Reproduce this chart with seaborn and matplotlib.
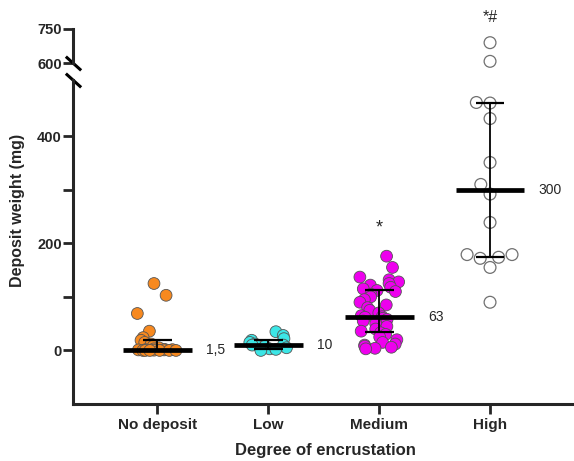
import numpy as np
import pandas as pd
import matplotlib
matplotlib.use("Agg")
import matplotlib.pyplot as plt
import seaborn as sns

# values (mg)
groups = ['No deposit', 'Low', 'Medium', 'High']
colors = ['#F7891F', '#3CE6E6', '#EE00EE', 'white']

no_deposit = [125, 103, 69, 36, 24, 19, 15, 12, 8, 5, 3, 2, 1.5, 1.5, 1,
              1, 0.5, 0, 0, 0, 0, 0, 0]
low = [35, 28, 22, 19, 15, 12, 10, 10, 8, 5, 3, 2, 0]
medium = [176, 155, 137, 132, 128, 125, 122, 118, 115, 112, 110, 105, 100,
          95, 90, 85, 80, 75, 70, 65, 63, 62, 60, 58, 55, 50, 45, 40, 36,
          33, 30, 25, 20, 15, 12, 10, 8, 6, 4, 3]
high = [690, 608, 463, 462, 433, 351, 310, 292, 239, 179, 179, 174, 172,
        155, 90]

medians = [1.5, 10, 63, 300]
q1 = [0, 3, 34, 174]
q3 = [19, 19, 112, 462]
median_labels = ['1,5', '10', '63', '300']

df = pd.DataFrame({
    'group': (['No deposit'] * len(no_deposit) + ['Low'] * len(low)
              + ['Medium'] * len(medium) + ['High'] * len(high)),
    'weight': no_deposit + low + medium + high,
})
pal = dict(zip(groups, colors))

sns.set_style('ticks')
plt.rcParams['font.family'] = ['Liberation Sans', 'DejaVu Sans']

W, H = 574, 461
fig = plt.figure(figsize=(W / 100, H / 100), dpi=100)
ax = fig.add_axes([73 / W, (H - 404) / H, (W - 73) / W, (404 - 80) / H])
# upper panel reaches a bit below 600 so the lowest circle is not cut
ax_up = fig.add_axes([73 / W, (H - 70) / H, (W - 73) / W, (70 - 29) / H])

# ---- points ----
np.random.seed(1)
sns.stripplot(data=df[df.group != 'High'], x='group', y='weight',
              order=groups, hue='group', palette=pal, jitter=0.18, size=8.5,
              edgecolor='#555555', linewidth=0.6, legend=False, ax=ax, zorder=3)
for a in (ax, ax_up):
    sns.swarmplot(data=df[df.group == 'High'], x='group', y='weight',
                  order=groups, hue='group', palette=pal, size=8.5,
                  edgecolor='#707070', linewidth=0.9, legend=False, ax=a,
                  zorder=3)

# ---- median + interquartile range ----
xs = np.arange(len(groups))
ax.vlines(xs, q1, q3, color='black', lw=1.3, zorder=5)
ax.hlines(q1, xs - 0.13, xs + 0.13, color='black', lw=1.6, zorder=5)
ax.hlines(q3, xs - 0.13, xs + 0.13, color='black', lw=1.6, zorder=5)
ax.hlines(medians, xs - 0.31, xs + 0.31, color='black', lw=3.4, zorder=6)
for x, m, lab in zip(xs, medians, median_labels):
    ax.text(x + 0.44, m, lab, ha='left', va='center', fontsize=10)

ax.text(2, 228, '*', ha='center', va='center', fontsize=13)
ax_up.text(3, 800, '*#', ha='center', va='center', fontsize=11.5, clip_on=False)

# ---- axes styling ----
for a in (ax, ax_up):
    a.set_xlim(-0.76, 3.757)
    a.set_xlabel('')
    a.set_ylabel('')
    a.spines['right'].set_visible(False)
    a.spines['top'].set_visible(False)
    a.spines['left'].set_linewidth(2.2)
    a.tick_params(axis='y', length=7, width=2, labelsize=10.5, pad=1)

ax.set_ylim(-100, 505)
ax.set_yticks([0, 200, 400])
ax.set_yticks([100, 300], minor=True)
ax.tick_params(axis='y', which='minor', length=7, width=2)
ax.spines['bottom'].set_linewidth(2.2)
ax.tick_params(axis='x', length=7, width=2, labelsize=11, pad=3)
for t in ax.get_xticklabels() + ax.get_yticklabels():
    t.set_fontweight('bold')

ax_up.set_ylim(570, 750)
ax_up.spines['left'].set_bounds(600, 750)
ax_up.set_yticks([600, 750])
ax_up.spines['bottom'].set_visible(False)
ax_up.set_xticks([])
for t in ax_up.get_yticklabels():
    t.set_fontweight('bold')

# break marks on the y axis
brk = [(-1, 0.9), (1, -0.9)]
ax_up.plot([-0.76], [600], marker=brk, markersize=11, mew=2.2,
           color='black', clip_on=False)
ax.plot([0], [1], transform=ax.transAxes, marker=brk, markersize=11,
        mew=2.2, color='black', clip_on=False)

fig.text(18 / W, 1 - 210 / H, 'Deposit weight (mg)', rotation=90,
         ha='center', va='center', fontsize=11.5, fontweight='bold')
fig.text(325 / W, 1 - 450 / H, 'Degree of encrustation', ha='center',
         va='center', fontsize=12, fontweight='bold')

fig.savefig('out.png', dpi=100)
